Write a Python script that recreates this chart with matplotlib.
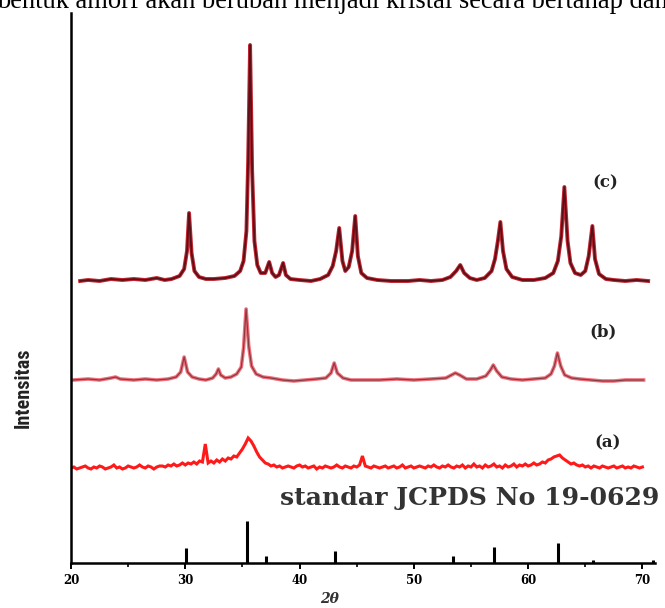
import numpy as np
import matplotlib
matplotlib.use("Agg")
import matplotlib.pyplot as plt
from matplotlib.ticker import MultipleLocator
from matplotlib import font_manager

# ---------------- data (2theta in degrees, intensity in a.u.) ----------------
# standard JCPDS 19-0629 stick pattern
std_pos = [30.1, 35.4, 37.1, 43.1, 53.4, 57.0, 62.6, 65.7, 70.9]
std_int = [15, 42, 7, 12, 7, 16, 20, 3, 3]

# sample (a): sampled every 0.25 deg starting at 20.0
a_start, a_step = 20.0, 0.25
a_int = [0, 1, -1, 0, 1, 2, 0, -1, 1, 0, 2, 1, -1, 0, 1, 3, 0, 1, -1, 0, 2, 1, 0, 1, 3, 1, 0, 2, 1, -1, 1, 2,
         2, 1, 3, 2, 4, 2, 3, 5,
         3, 5, 4, 6, 4, 7, 6, 24,
         5, 7, 5, 8, 6, 9, 7, 10,
         9, 12, 11, 15, 19, 24, 30, 27,
         22, 16, 11, 8, 5, 4, 2, 3,
         1, 2, 0, 1, 2, 1, 0, 2,
         3, 1, 2, 0, 1, 2, -1, 1,
         0, 2, 1, 0, 1, 3, 1, 0,
         2, 1, 0, 2, 1, 3, 12, 2,
         1, 0, 2, 1, 0, 1, 2, 0,
         1, 2, 0, 1, 3, 0, 1, 2,
         0, 1, 2, 1, 0, 2, 1, 3,
         1, 0, 2, 1, 3, 1, 0, 2,
         1, 3, 0, 2, 1, 4, 1, 2,
         0, 3, 1, 2, 4, 1, 2, 0,
         3, 1, 2, 4, 1, 3, 2, 4,
         2, 3, 5, 3, 4, 6, 5, 8,
         9, 11, 12, 13, 10, 8, 6, 4,
         5, 3, 2, 3, 1, 2, 0, 2,
         1, 0, 2, 1, 0, 1, 2, 0,
         1, 2, 0, 1, 0, 2, 1, 0, 1]

# sample (b)
b_pos = [20.2, 21.5, 22.5, 23.5, 23.9, 24.3, 25.5, 26.5, 27.5, 28.5, 29.2, 29.6, 29.9, 30.2, 30.6,
         31.2, 31.8, 32.4, 32.7, 32.9, 33.1, 33.5, 34.0, 34.5, 34.9, 35.1, 35.32, 35.55, 35.8, 36.2,
         36.8, 37.5, 38.5, 39.5, 40.5, 41.5, 42.3, 42.75, 43.03, 43.3, 43.8, 44.5, 45.5, 47.0, 48.5,
         50.0, 51.5, 52.8, 53.3, 53.63, 54.0, 54.6, 55.5, 56.3, 56.7, 56.95, 57.25, 57.7, 58.5, 59.5,
         60.5, 61.5, 62.0, 62.3, 62.56, 62.85, 63.2, 63.8, 64.5, 65.5, 66.5, 67.5, 68.5, 69.5, 70.1]
b_int = [0, 1, 0, 2, 3, 1, 0, 1, 0, 1, 3, 8, 23, 8, 3,
         1, 0, 2, 6, 11, 5, 2, 3, 6, 13, 32, 71, 34, 14, 6,
         3, 2, 0, -1, 0, 1, 2, 7, 17, 7, 2, 0, 0, 0, 1,
         0, 1, 2, 5, 7, 5, 1, 1, 4, 10, 15, 9, 3, 1, 0,
         1, 2, 6, 14, 27, 14, 5, 2, 1, 0, -1, -1, 0, 0, 0]

# sample (c)
c_pos = [20.8, 21.5, 22.5, 23.5, 24.5, 25.5, 26.5, 27.5, 28.2, 28.8, 29.5, 29.9, 30.15, 30.33, 30.55,
         30.8, 31.2, 31.8, 32.5, 33.5, 34.3, 34.8, 35.1, 35.35, 35.5, 35.67, 35.85, 36.05, 36.3, 36.6,
         37.0, 37.34, 37.6, 37.9, 38.2, 38.56, 38.8, 39.2, 40.0, 41.0, 41.8, 42.5, 42.9, 43.2, 43.47,
         43.75, 44.0, 44.3, 44.6, 44.87, 45.1, 45.4, 45.9, 46.8, 48.0, 49.5, 50.5, 51.5, 52.5, 53.2,
         53.7, 54.06, 54.4, 54.9, 55.5, 56.2, 56.8, 57.1, 57.35, 57.57, 57.8, 58.1, 58.6, 59.5, 60.5,
         61.5, 62.2, 62.6, 62.9, 63.17, 63.45, 63.7, 64.1, 64.6, 65.0, 65.3, 65.62, 65.85, 66.2, 66.8,
         67.5, 68.5, 69.5, 70.5]
c_int = [0, 1, 0, 2, 1, 2, 1, 3, 1, 2, 5, 12, 30, 68, 28,
         10, 4, 2, 2, 3, 5, 10, 20, 50, 120, 236, 110, 40, 16, 8,
         8, 19, 8, 4, 6, 18, 6, 2, 1, 0, 2, 6, 15, 30, 53,
         20, 10, 14, 30, 65, 25, 8, 3, 1, 0, 0, 1, 0, 1, 4,
         10, 16, 8, 3, 1, 3, 10, 22, 40, 59, 30, 12, 4, 1, 1,
         3, 8, 20, 45, 94, 40, 18, 8, 6, 10, 25, 55, 22, 7, 2,
         1, 0, 1, 0]

x_ticks = [20, 30, 40, 50, 60, 70]
labels = ["(a)", "(b)", "(c)"]
std_label = "standar JCPDS No 19-0629"
top_line = "bentuk amorf akan berubah menjadi kristal secara bertahap dan"

# vertical stacking offsets (layout)
off_a, off_b, off_c = 95, 183, 282

# ---------------- figure ----------------
W, H = 665, 608
fig = plt.figure(figsize=(W / 100, H / 100), dpi=100)
fig.patch.set_facecolor("white")

def fx(px):
    return px / W

def fy(py):
    return 1 - py / H

ax = fig.add_axes([fx(71), fy(563), fx(655) - fx(71), fy(13) - fy(563)])
ax.set_xlim(20, 71.1)
ax.set_ylim(0, 550)

# standard sticks
ax.vlines(std_pos, 0, std_int, color="black", lw=2.2)

# (a)
a_x = a_start + a_step * np.arange(len(a_int))
ax.plot(a_x, np.array(a_int) + off_a, color="#ff1a1a", lw=2.2, solid_joinstyle="miter")

# (b)
bi = np.array(b_int) + off_b
ax.plot(b_pos, bi, color="#f0707c", lw=2.6)
ax.plot(b_pos, bi, color="#8a3a40", lw=0.9)

# (c)
ci = np.array(c_int) + off_c
ax.plot(c_pos, ci, color="#c0242e", lw=2.8)
ax.plot(c_pos, ci, color="#5a1018", lw=1.3)

for s in ["top", "right"]:
    ax.spines[s].set_visible(False)
ax.spines["left"].set_linewidth(1.8)
ax.spines["bottom"].set_linewidth(1.8)

ax.set_yticks([])
ax.xaxis.set_minor_locator(MultipleLocator(5))
ax.set_xticks(x_ticks)
ax.set_xticklabels([str(t) for t in x_ticks], family="DejaVu Serif", fontweight="bold", fontsize=8.5)
ax.tick_params(axis="x", which="major", direction="out", length=4, width=1.4, pad=4)
ax.tick_params(axis="x", which="minor", direction="out", length=3, width=1.2)

# pick a narrow sans face if one is available
narrow = "DejaVu Sans"
names = {f.name for f in font_manager.fontManager.ttflist}
for cand in ["Liberation Sans Narrow", "DejaVu Sans Condensed", "Roboto Condensed", "Open Sans Condensed"]:
    if cand in names:
        narrow = cand
        break

# texts
yl = fig.text(fx(23), fy(388), "Intensitas", rotation=90, ha="center", va="center",
              family=narrow, fontweight="bold", fontsize=13, color="#222222")
fig.text(fx(330), fy(599), "2θ", ha="center", va="center", family="DejaVu Serif",
         fontstyle="italic", fontweight="bold", fontsize=10, color="#333333")

fig.text(fx(605), fy(183), labels[2], ha="center", va="center", family="DejaVu Serif",
         fontweight="bold", fontsize=12, color="#222222")
fig.text(fx(603), fy(332), labels[1], ha="center", va="center", family="DejaVu Serif",
         fontweight="bold", fontsize=12, color="#222222")
fig.text(fx(608), fy(443), labels[0], ha="center", va="center", family="DejaVu Serif",
         fontweight="bold", fontsize=12, color="#222222")

st = fig.text(fx(280), fy(498), std_label, ha="left", va="center", family="DejaVu Serif",
              fontweight="bold", fontsize=14, color="#333333")

tt = fig.text(fx(-3), fy(7.5), top_line, ha="left", va="baseline", family="Liberation Serif",
              fontsize=17, color="black")

# fit lengths of the long texts
fig.canvas.draw()
r = fig.canvas.get_renderer()
for t, target in [(st, 380), (tt, 672)]:
    w = t.get_window_extent(r).width
    t.set_fontsize(t.get_fontsize() * target / w)
hgt = yl.get_window_extent(r).height
yl.set_fontsize(yl.get_fontsize() * 80 / hgt)

fig.savefig("out.png", dpi=100, facecolor="white")
